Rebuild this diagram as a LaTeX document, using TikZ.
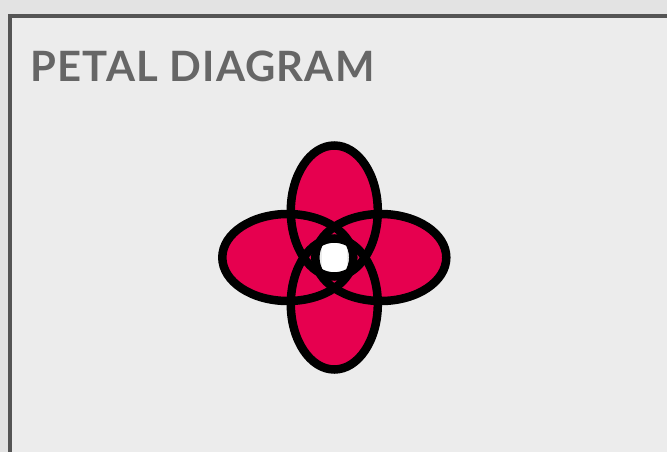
\documentclass[tikz,border=0pt]{standalone}
\usepackage{fontspec}
\setmainfont{Lato}
\newfontfamily\titlefont[LetterSpace=2.8]{Lato}
\definecolor{outerbg}{HTML}{E3E3E3}
\definecolor{innerbg}{HTML}{ECECEC}
\definecolor{framecol}{HTML}{555555}
\definecolor{titlecol}{HTML}{666666}
\definecolor{petal}{HTML}{E6004F}
\tikzset{
  petalfill/.style={fill=petal},
  petalline/.style={draw=black,line width=8.5pt},
  titletext/.style={anchor=base west,inner sep=0pt,text=titlecol,font=\titlefont\fontsize{41.8}{44}\selectfont\bfseries}
}
\begin{document}
\begin{tikzpicture}[x=1pt,y=-1pt]
\useasboundingbox (0,0) rectangle (667,452);
\fill[outerbg] (0,0) rectangle (667,452);
\fill[innerbg] (10,16) rectangle (667,452);
\draw[framecol,line width=3.6pt] (10,470) -- (10,16) -- (690,16);
\node[titletext] (title) at (30.5,81.7) {PETAL DIAGRAM};
% petals
\def\top{(334.3,211) ellipse [x radius=43.5,y radius=65.5]}
\def\bot{(334.3,304) ellipse [x radius=43.5,y radius=65.5]}
\def\lft{(287.8,257.5) ellipse [x radius=65.5,y radius=43.5]}
\def\rgt{(380.8,257.5) ellipse [x radius=65.5,y radius=43.5]}
\fill[petalfill] \top;
\fill[petalfill] \bot;
\fill[petalfill] \lft;
\fill[petalfill] \rgt;
\begin{scope}
  \clip \top;
  \clip \bot;
  \clip \lft;
  \fill[innerbg] \rgt;
  \fill[white] (321.5,230) rectangle (346.7,285);
\end{scope}
\draw[petalline] \top;
\draw[petalline] \bot;
\draw[petalline] \lft;
\draw[petalline] \rgt;
\end{tikzpicture}
\end{document}
